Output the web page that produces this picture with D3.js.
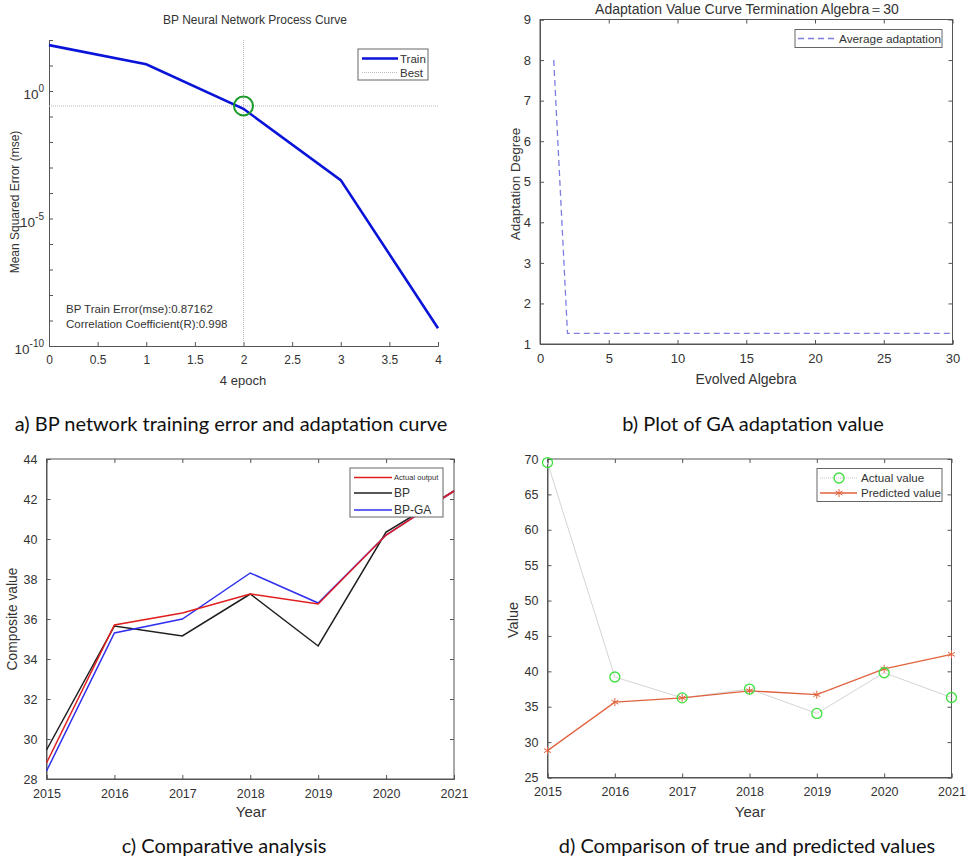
<!DOCTYPE html>
<html>
<head>
<meta charset="utf-8">
<script src="https://cdn.jsdelivr.net/npm/d3@7"></script>
<style>
  html, body { margin: 0; padding: 0; background: #fff; }
  svg { display: block; }
  text { font-family: "Liberation Sans", Arial, sans-serif; fill: #333; }
  .cap { font-family: "Lato", "Open Sans", sans-serif; fill: #111; }
</style>
</head>
<body>
<svg id="chart" width="966" height="859"></svg>
<script>
// ---------- DATA ----------
// (a) BP training curve
const epochs = [0, 1, 2, 3, 4];
const trainMse = [63, 11.2, 0.2, 3.2e-4, 5e-10];
const bestEpoch = 2;
const bestMse = 0.26;
const aXTicks = [0, 0.5, 1, 1.5, 2, 2.5, 3, 3.5, 4];
const aYTickExps = [0, -5, -10];

// (b) GA adaptation value
const generations = [1,2,3,4,5,6,7,8,9,10,11,12,13,14,15,16,17,18,19,20,21,22,23,24,25,26,27,28,29,30];
const avgAdaptation = [8,1.26,1.26,1.26,1.26,1.26,1.26,1.26,1.26,1.26,1.26,1.26,1.26,1.26,1.26,1.26,1.26,1.26,1.26,1.26,1.26,1.26,1.26,1.26,1.26,1.26,1.26,1.26,1.26,1.26];
const bXTicks = [0, 5, 10, 15, 20, 25, 30];
const bYTicks = [1, 2, 3, 4, 5, 6, 7, 8, 9];

// (c) Comparative analysis
const years = [2015, 2016, 2017, 2018, 2019, 2020, 2021];
const actualOutput = [28.8, 35.7, 36.3, 37.25, 36.75, 40.2, 42.4];
const bpOutput     = [29.45, 35.65, 35.15, 37.25, 34.65, 40.35, 42.4];
const bpgaOutput   = [28.4, 35.3, 36.0, 38.3, 36.8, 40.2, 42.4];
const cYTicks = [28, 30, 32, 34, 36, 38, 40, 42, 44];

// (d) True vs predicted
const actualValue    = [69.5, 39.2, 36.25, 37.5, 34.05, 39.8, 36.3];
const predictedValue = [28.8, 35.65, 36.25, 37.25, 36.7, 40.35, 42.4];
const dYTicks = [25, 30, 35, 40, 45, 50, 55, 60, 65, 70];

// ---------- DRAW ----------
const svg = d3.select("#chart");
svg.append("rect").attr("width", 966).attr("height", 859).attr("fill", "#fff");
const AX = "#555";

function boxAxes(g, x, y, xTicks, yTicks, opts) {
  const [x0, x1] = x.range(), [y0, y1] = y.range(); // y0 bottom, y1 top
  const tl = 4;
  const fsx = opts.fsx || 13, fsy = opts.fsy || 13;
  if (opts.box) {
    g.append("rect").attr("x", x0).attr("y", y1).attr("width", x1 - x0).attr("height", y0 - y1)
      .attr("fill", "none").attr("stroke", AX).attr("stroke-width", 1);
  }
  const bx = g.append("g").attr("transform", `translate(0,${y0})`)
    .call(d3.axisBottom(x).tickValues(xTicks).tickSize(-tl).tickPadding(6 + tl).tickFormat(opts.xfmt || d3.format("d")));
  bx.select(".domain").attr("stroke", AX);
  bx.selectAll(".tick line").attr("stroke", AX);
  bx.selectAll("text").attr("font-size", fsx).attr("font-family", '"Liberation Sans", Arial, sans-serif').attr("fill", "#333");
  const ly = g.append("g").attr("transform", `translate(${x0},0)`)
    .call(d3.axisLeft(y).tickValues(yTicks).tickSize(-tl).tickPadding(5 + tl).tickFormat(opts.yfmt || d3.format("d")));
  ly.select(".domain").attr("stroke", AX);
  ly.selectAll(".tick line").attr("stroke", AX);
  ly.selectAll("text").attr("font-size", fsy).attr("font-family", '"Liberation Sans", Arial, sans-serif').attr("fill", "#333");
  if (opts.box) {
    const tx = g.append("g").attr("transform", `translate(0,${y1})`)
      .call(d3.axisTop(x).tickValues(xTicks).tickSize(-tl).tickFormat(""));
    tx.select(".domain").remove();
    tx.selectAll(".tick line").attr("stroke", AX);
    const ry = g.append("g").attr("transform", `translate(${x1},0)`)
      .call(d3.axisRight(y).tickValues(yTicks).tickSize(-tl).tickFormat(""));
    ry.select(".domain").remove();
    ry.selectAll(".tick line").attr("stroke", AX);
  }
}

function legendBox(g, x, y, w, h) {
  g.append("rect").attr("x", x).attr("y", y).attr("width", w).attr("height", h)
    .attr("fill", "#fff").attr("stroke", "#666").attr("stroke-width", 1);
}

// ===== Panel (a) =====
{
  const g = svg.append("g");
  const x = d3.scaleLinear().domain([0, 4]).range([49, 438]);
  const y = d3.scaleLog().domain([1e-10, 1e2]).range([346, 40]);
  const bx = g.append("g").attr("transform", "translate(0,346)")
    .call(d3.axisBottom(x).tickValues(aXTicks).tickSize(-4).tickPadding(9).tickFormat(d3.format("")));
  bx.select(".domain").attr("stroke", AX);
  bx.selectAll(".tick line").attr("stroke", AX);
  bx.selectAll("text").attr("font-size", 12).attr("fill", "#333");
  const decades = d3.range(-10, 3).map(e => Math.pow(10, e));
  const ly = g.append("g").attr("transform", "translate(49,0)")
    .call(d3.axisLeft(y).tickValues(decades).tickSize(-4).tickFormat(""));
  ly.select(".domain").attr("stroke", AX);
  ly.selectAll(".tick line").attr("stroke", AX);
  aYTickExps.forEach(e => {
    const t = g.append("text").attr("x", 44).attr("y", y(Math.pow(10, e)) + 8)
      .attr("text-anchor", "end").attr("font-size", 13.5);
    t.append("tspan").text("10");
    t.append("tspan").attr("dy", -7).attr("font-size", 10).text(String(e));
  });
  g.append("line").attr("x1", x(bestEpoch)).attr("x2", x(bestEpoch)).attr("y1", 40).attr("y2", 346)
    .attr("stroke", "#bbb").attr("stroke-width", 1).attr("stroke-dasharray", "1,1");
  g.append("line").attr("x1", 49).attr("x2", 438).attr("y1", y(bestMse)).attr("y2", y(bestMse))
    .attr("stroke", "#bbb").attr("stroke-width", 1).attr("stroke-dasharray", "1,1");
  g.append("path").datum(epochs.map((e, i) => [e, trainMse[i]]))
    .attr("d", d3.line().x(d => x(d[0])).y(d => y(d[1])))
    .attr("fill", "none").attr("stroke", "#0a14d8").attr("stroke-width", 2.6);
  g.append("circle").attr("cx", x(bestEpoch)).attr("cy", y(bestMse)).attr("r", 9.5)
    .attr("fill", "none").attr("stroke", "#1a9a2a").attr("stroke-width", 2);
  g.append("text").attr("x", 255).attr("y", 24).attr("text-anchor", "middle").attr("font-size", 12).text("BP Neural Network Process Curve");
  g.append("text").attr("transform", "translate(19,202) rotate(-90)").attr("text-anchor", "middle").attr("font-size", 12).text("Mean Squared Error (mse)");
  g.append("text").attr("x", 243).attr("y", 385).attr("text-anchor", "middle").attr("font-size", 13).text("4 epoch");
  g.append("text").attr("x", 66).attr("y", 313).attr("font-size", 11.5).text("BP Train Error(mse):0.87162");
  g.append("text").attr("x", 66).attr("y", 328).attr("font-size", 11.5).text("Correlation Coefficient(R):0.998");
  legendBox(g, 358, 49, 70, 31);
  g.append("line").attr("x1", 362).attr("x2", 398).attr("y1", 58.5).attr("y2", 58.5).attr("stroke", "#0a14d8").attr("stroke-width", 2.6);
  g.append("line").attr("x1", 362).attr("x2", 398).attr("y1", 72.5).attr("y2", 72.5).attr("stroke", "#bbb").attr("stroke-width", 1).attr("stroke-dasharray", "1,1");
  g.append("text").attr("x", 400).attr("y", 63).attr("font-size", 11.5).text("Train");
  g.append("text").attr("x", 400).attr("y", 77).attr("font-size", 11.5).text("Best");
}

// ===== Panel (b) =====
{
  const g = svg.append("g");
  const x = d3.scaleLinear().domain([0, 30]).range([540, 952.5]);
  const y = d3.scaleLinear().domain([1, 9]).range([344, 19.5]);
  boxAxes(g, x, y, bXTicks, bYTicks, { box: true, fsx: 13, fsy: 13 });
  g.append("path").datum(generations.map((gg, i) => [gg, avgAdaptation[i]]))
    .attr("d", d3.line().x(d => x(d[0])).y(d => y(d[1])))
    .attr("fill", "none").attr("stroke", "#7d7de0").attr("stroke-width", 1.3).attr("stroke-dasharray", "6,4");
  g.append("text").attr("x", 747).attr("y", 14).attr("text-anchor", "middle").attr("font-size", 14).text("Adaptation Value Curve  Termination Algebra\uFF1D30");
  g.append("text").attr("transform", "translate(520,184) rotate(-90)").attr("text-anchor", "middle").attr("font-size", 13.5).text("Adaptation Degree");
  g.append("text").attr("x", 746).attr("y", 384).attr("text-anchor", "middle").attr("font-size", 14).text("Evolved Algebra");
  legendBox(g, 795, 29.5, 147, 18);
  g.append("line").attr("x1", 798).attr("x2", 835).attr("y1", 38.5).attr("y2", 38.5)
    .attr("stroke", "#7d7de0").attr("stroke-width", 1.3).attr("stroke-dasharray", "6,4");
  g.append("text").attr("x", 839).attr("y", 42.5).attr("font-size", 11.8).text("Average adaptation");
}

// ===== Panel (c) =====
{
  const g = svg.append("g");
  const x = d3.scaleLinear().domain([2015, 2021]).range([46.5, 454]);
  const y = d3.scaleLinear().domain([28, 44]).range([779, 459]);
  boxAxes(g, x, y, years, cYTicks, { box: true, fsx: 12.5, fsy: 12.5 });
  const line = d3.line().x((d, i) => x(years[i])).y(d => y(d));
  const series = [
    { v: bpOutput, c: "#1e1e1e", w: 1.5 },
    { v: bpgaOutput, c: "#3030ee", w: 1.5 },
    { v: actualOutput, c: "#e01e1e", w: 1.5 }
  ];
  series.forEach(s => g.append("path").datum(s.v).attr("d", line).attr("fill", "none")
    .attr("stroke", s.c).attr("stroke-width", s.w));
  g.append("text").attr("transform", "translate(17,619) rotate(-90)").attr("text-anchor", "middle").attr("font-size", 13.8).text("Composite value");
  g.append("text").attr("x", 251).attr("y", 817).attr("text-anchor", "middle").attr("font-size", 15).text("Year");
  legendBox(g, 350, 468, 93, 49);
  const leg = [
    { t: "Actual output", c: "#e01e1e", fs: 7.6, yy: 477.5 },
    { t: "BP", c: "#1e1e1e", fs: 12, yy: 493 },
    { t: "BP-GA", c: "#3030ee", fs: 12, yy: 510 }
  ];
  leg.forEach(l => {
    g.append("line").attr("x1", 354).attr("x2", 392).attr("y1", l.yy).attr("y2", l.yy).attr("stroke", l.c).attr("stroke-width", 1.5);
    g.append("text").attr("x", 394).attr("y", l.yy + l.fs * 0.36).attr("font-size", l.fs).text(l.t);
  });
}

// ===== Panel (d) =====
{
  const g = svg.append("g");
  const x = d3.scaleLinear().domain([2015, 2021]).range([547.5, 951.5]);
  const y = d3.scaleLinear().domain([25, 70]).range([777.5, 459]);
  boxAxes(g, x, y, years, dYTicks, { box: true, fsx: 12.5, fsy: 12.5 });
  const line = d3.line().x((d, i) => x(years[i])).y(d => y(d));
  const green = "#3ee03e", orange = "#e0623e";
  g.append("path").datum(actualValue).attr("d", line).attr("fill", "none").attr("stroke", "#d4d4d4").attr("stroke-width", 1);
  g.append("path").datum(predictedValue).attr("d", line).attr("fill", "none").attr("stroke", orange).attr("stroke-width", 1.3);
  const star = d3.symbol().type(d3.symbolAsterisk || d3.symbolCross).size(45);
  g.selectAll(".st").data(predictedValue).join("path").attr("class", "st")
    .attr("transform", (d, i) => `translate(${x(years[i])},${y(d)})`)
    .attr("d", star).attr("fill", "none").attr("stroke", orange).attr("stroke-width", 1);
  g.selectAll(".ci").data(actualValue).join("circle").attr("class", "ci")
    .attr("cx", (d, i) => x(years[i])).attr("cy", d => y(d)).attr("r", 5)
    .attr("fill", "none").attr("stroke", green).attr("stroke-width", 1.3);
  g.append("text").attr("transform", "translate(518,620) rotate(-90)").attr("text-anchor", "middle").attr("font-size", 14.5).text("Value");
  g.append("text").attr("x", 750).attr("y", 817).attr("text-anchor", "middle").attr("font-size", 15).text("Year");
  legendBox(g, 817, 468.5, 125, 33);
  g.append("line").attr("x1", 820).attr("x2", 857).attr("y1", 478).attr("y2", 478).attr("stroke", "#c8c8c8").attr("stroke-width", 1).attr("stroke-dasharray", "1,1");
  g.append("circle").attr("cx", 839).attr("cy", 478).attr("r", 5).attr("fill", "none").attr("stroke", green).attr("stroke-width", 1.3);
  g.append("line").attr("x1", 820).attr("x2", 857).attr("y1", 493).attr("y2", 493).attr("stroke", orange).attr("stroke-width", 1.3);
  g.append("path").attr("transform", "translate(839,493)").attr("d", star()).attr("fill", "none").attr("stroke", orange).attr("stroke-width", 1);
  g.append("text").attr("x", 861).attr("y", 482).attr("font-size", 11.6).text("Actual value");
  g.append("text").attr("x", 861).attr("y", 497).attr("font-size", 11.6).text("Predicted value");
}

// ===== Captions =====
const captions = [
  { t: "a) BP network training error and adaptation curve", x: 231, y: 431 },
  { t: "b) Plot of GA adaptation value", x: 753, y: 431 },
  { t: "c) Comparative analysis", x: 224, y: 853 },
  { t: "d) Comparison of true and predicted values", x: 747, y: 853 }
];
svg.selectAll(".cap").data(captions).join("text").attr("class", "cap")
  .attr("x", d => d.x).attr("y", d => d.y).attr("text-anchor", "middle")
  .attr("font-size", 20).text(d => d.t);
</script>
</body>
</html>
